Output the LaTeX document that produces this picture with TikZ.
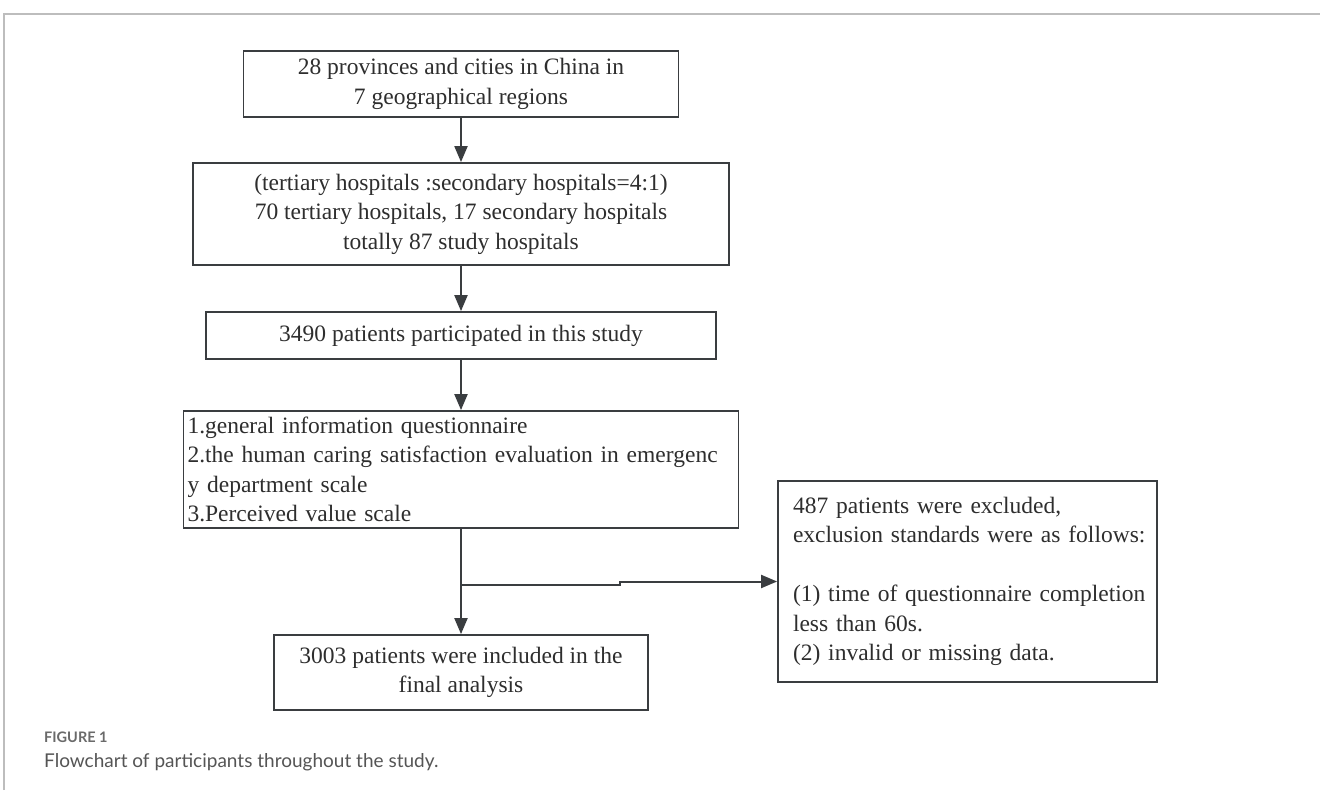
\documentclass[tikz,border=0pt]{standalone}
\usepackage{fontspec}
\setmainfont{Liberation Serif}
\newfontfamily\capfont{Lato}
\usetikzlibrary{arrows.meta}
\definecolor{boxline}{HTML}{3A3D40}
\definecolor{txt}{HTML}{2E2E2E}
\definecolor{framegray}{HTML}{BDBDBD}
\definecolor{capgray}{HTML}{6A6A6A}
\definecolor{captxt}{HTML}{555555}
\begin{document}
\begin{tikzpicture}[x=1pt,y=-1pt,
  box/.style={draw=boxline, line width=1.8pt, rectangle, inner sep=0pt, text=txt,
    font=\fontsize{23.5}{29.5}\selectfont, align=center},
  conn/.style={draw=boxline, line width=2pt, -{Triangle[length=16pt,width=13pt]}},
  link/.style={draw=boxline, line width=2pt}
]
\useasboundingbox (0,0) rectangle (1320,790);
\fill[white] (0,0) rectangle (1320,790);
\draw[framegray, line width=2pt] (4,790) -- (4,14) -- (1320,14);

\node[box, minimum width=435pt, minimum height=66pt] (b1) at (461,84)
  {28 provinces and cities in China in\\7 geographical regions};
\node[box, minimum width=536pt, minimum height=102pt] (b2) at (461,214)
  {(tertiary hospitals :secondary hospitals=4:1)\\70 tertiary hospitals, 17 secondary hospitals\\totally 87 study hospitals};
\node[box, minimum width=510pt, minimum height=47pt] (b3) at (461,335.5)
  {3490 patients participated in this study};
\node[box, align=left, text width=547pt, inner xsep=4pt, minimum height=117pt] (b4) at (461,469.5)
  {\mbox{1.general information questionnaire}\\\mbox{2.the human caring satisfaction evaluation in emergenc}\\\mbox{y department scale}\\\mbox{3.Perceived value scale}};
\node[box, minimum width=374pt, minimum height=75pt] (b6) at (461,672.5)
  {3003 patients were included in the\\final analysis};
\node[box, align=left, text width=349pt, inner xsep=15pt, minimum height=201pt] (b5) at (967.5,581.5)
  {\mbox{487 patients were excluded,}\\\mbox{exclusion standards were as follows:}\\[29.5pt]\mbox{(1) time of questionnaire completion}\\\mbox{less than 60s.}\\\mbox{(2) invalid or missing data.}};

\draw[conn] (b1.south) -- (b2.north);
\draw[conn] (b2.south) -- (b3.north);
\draw[conn] (b3.south) -- (b4.north);
\draw[conn] (b4.south) -- (b6.north);
\coordinate (j1) at (461,585);
\coordinate (j2) at (620,585);
\coordinate (j3) at (620,581.5);
\draw[conn] (j1) -- (j2) -- (j3) -- (b5.west);

\node[anchor=base west, inner sep=0pt, font=\capfont\bfseries\fontsize{14.5}{16}\selectfont, text=capgray] (figlabel) at (44,742) {FIGURE 1};
\node[anchor=base west, inner sep=0pt, font=\capfont\fontsize{19}{22}\selectfont, text=captxt] (caption) at (44,767) {Flowchart of participants throughout the study.};
\end{tikzpicture}
\end{document}
